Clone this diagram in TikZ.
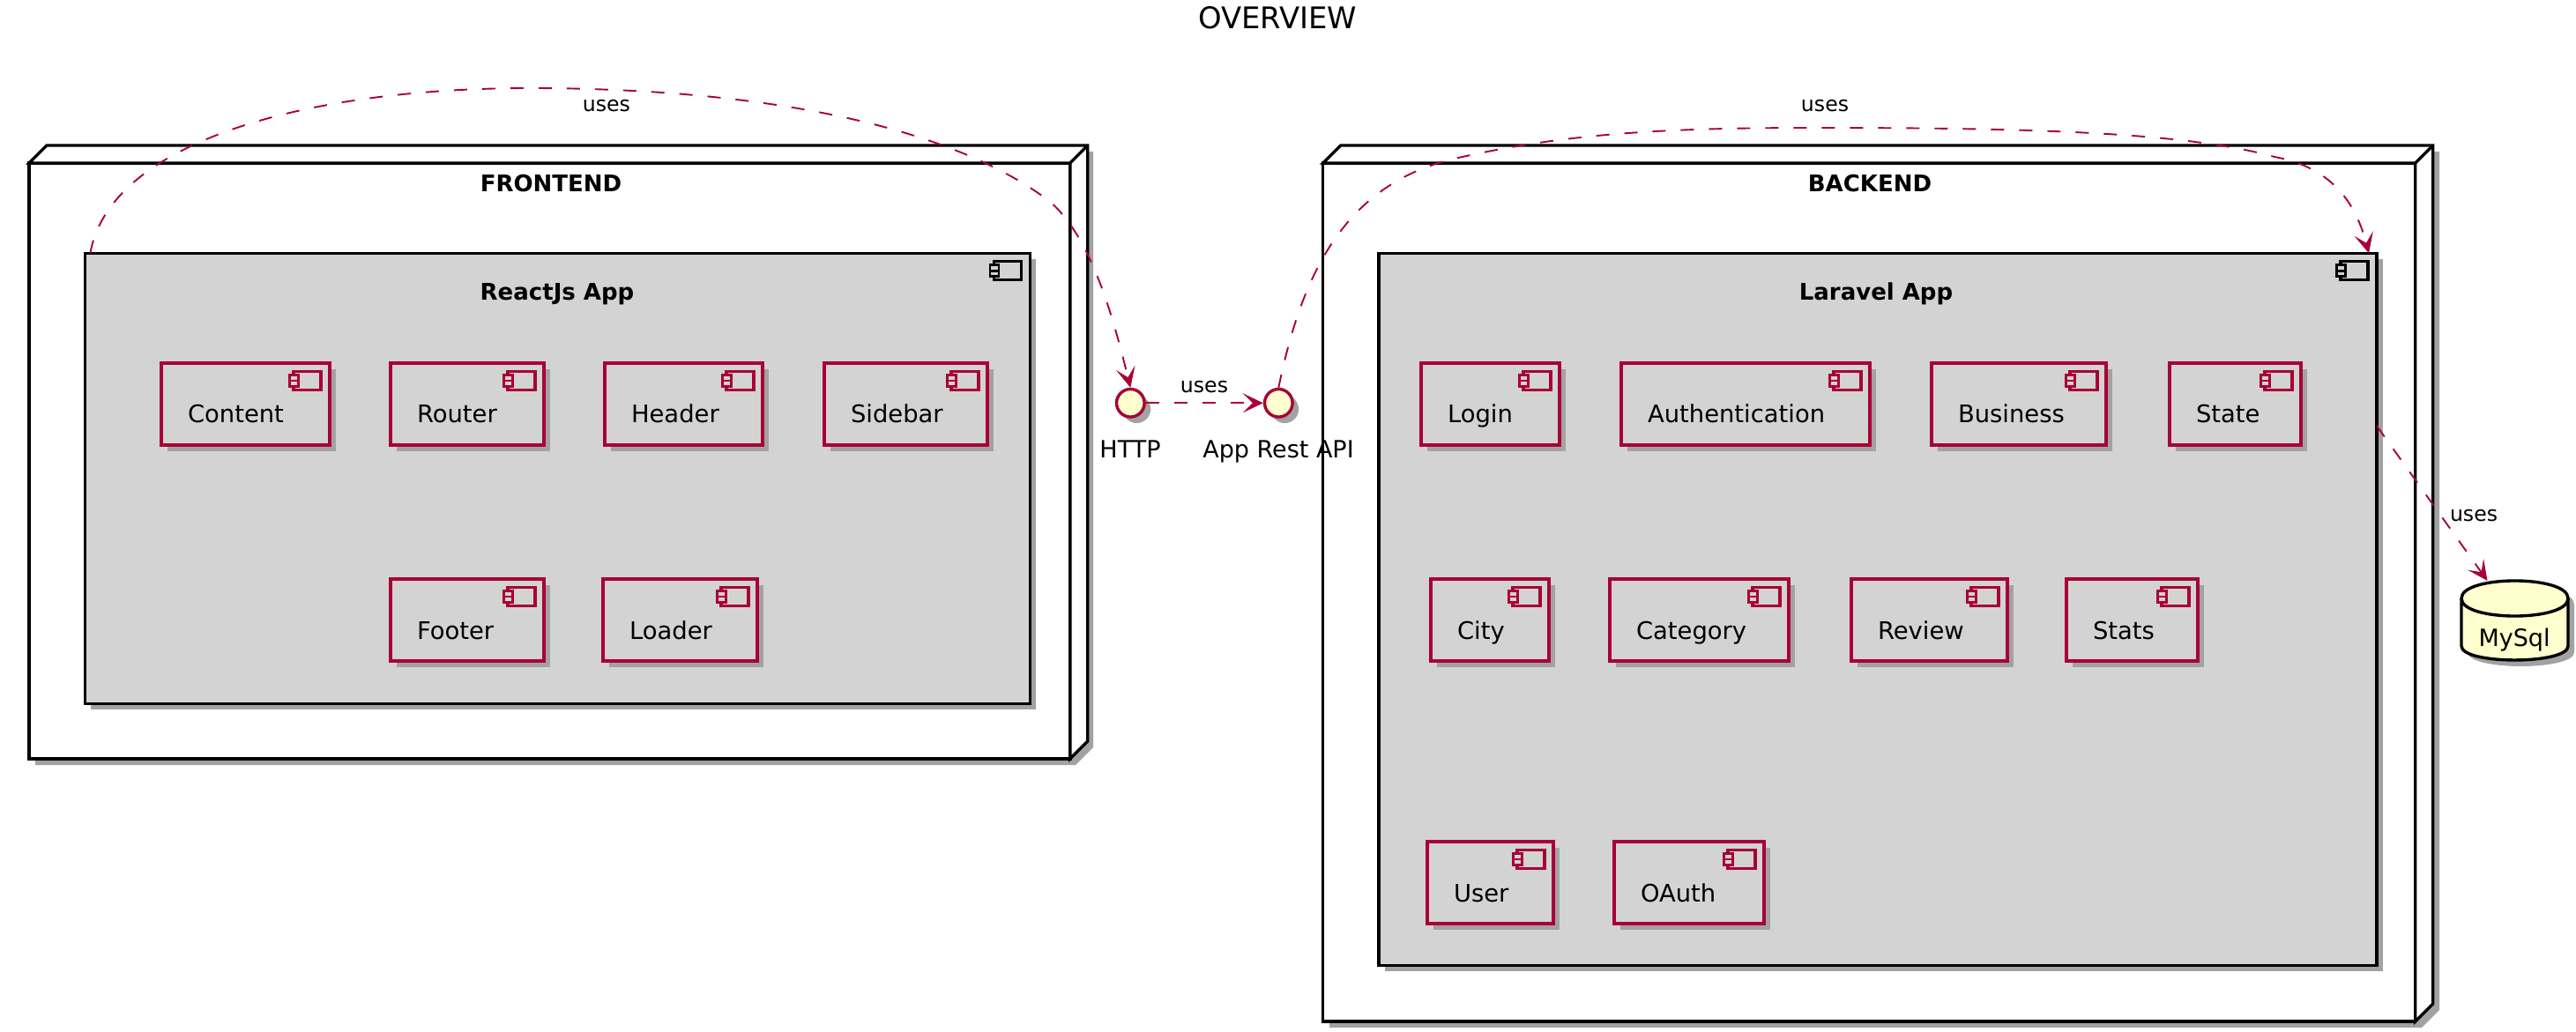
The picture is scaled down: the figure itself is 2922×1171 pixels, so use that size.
\documentclass[tikz,border=0pt]{standalone}
\usepackage{fontspec}
\setmainfont{DejaVu Sans}
\usetikzlibrary{arrows.meta,shadows}

\definecolor{umlred}{HTML}{A80036}
\definecolor{umlyellow}{HTML}{FEFECE}
\definecolor{umlgray}{HTML}{D3D3D3}
\definecolor{umlshadow}{HTML}{A2A2A2}

\newcommand{\compicon}[2]{
  \begin{scope}[shift={(#2.north east)},draw=#1,line width=1.6pt]
    \draw (-41,9.5) rectangle (-10,30.5);
    \filldraw[fill=umlgray,line width=1.4pt] (-45.5,13.5) rectangle (-35.5,20);
    \filldraw[fill=umlgray,line width=1.4pt] (-45.5,20) rectangle (-35.5,26.5);
  \end{scope}
}

\tikzset{
  softshadow/.style={drop shadow={shadow xshift=3.5pt,shadow yshift=-3.5pt,fill=umlshadow,opacity=1}},
  frame3d/.style={draw=black, fill=white, line width=1.7pt, anchor=north west, inner sep=0pt, outer sep=0pt},
  appbox/.style={draw=black, fill=umlgray, line width=1.7pt, anchor=north west, inner sep=0pt, outer sep=0pt, softshadow},
  comp/.style={draw=umlred, fill=umlgray, line width=1.7pt, anchor=north west, align=left, outer sep=0pt,
    inner xsep=15pt, inner ysep=0pt, text height=34pt, text depth=12.5pt,
    text width=#1*0.5pt-30pt, font=\fontsize{13.7}{16}\selectfont, softshadow},
  iface/.style={circle, draw=umlred, fill=umlyellow, line width=1.7pt, inner sep=0pt, minimum size=15.8pt, softshadow},
  uses/.style={draw=umlred, line width=0.95pt, dash pattern=on 7.5pt off 8.5pt,
    -{Stealth[length=11.5pt,width=11pt,inset=5.5pt,color=umlred]}},
  usestext/.style={anchor=base, inner sep=0pt, font=\fontsize{11.8}{14}\selectfont},
  boldtext/.style={anchor=base, inner sep=0pt, font=\fontsize{13}{16}\selectfont\bfseries},
  plaintext/.style={anchor=base, inner sep=0pt, font=\fontsize{13.5}{16}\selectfont}
}

\begin{document}
\begin{tikzpicture}[x=0.5pt,y=-0.5pt]
\useasboundingbox (0,0) rectangle (2922,1171);

\node (overview) [anchor=base, inner sep=0pt, font=\fontsize{16.9}{20}\selectfont] at (1449,33) {OVERVIEW};

%frontend cube
\fill[umlshadow] (40,192) -- (60,172) -- (1240,172) -- (1240,848) -- (1220,868) -- (40,868) -- cycle;
\node (frontend) [frame3d, minimum width=590.4pt, minimum height=338pt] at (33,185) {};
\draw[line width=1.7pt, line join=miter, fill=white] (frontend.north west) -- ++(20,-20) -- ++(1180.7,0) -- ++(0,676) -- (frontend.south east) -- (frontend.north east) -- cycle;
\draw[line width=1.7pt] (frontend.north east) -- ++(20,-20);
\node (frontendlabel) [boldtext] at (625,218) {FRONTEND};

%backend cube
\fill[umlshadow] (1508,192) -- (1528,172) -- (2767,172) -- (2767,1146) -- (2747,1166) -- (1508,1166) -- cycle;
\node (backend) [frame3d, minimum width=619.5pt, minimum height=487pt] at (1500.7,185) {};
\draw[line width=1.7pt, line join=miter, fill=white] (backend.north west) -- ++(20,-20) -- ++(1239,0) -- ++(0,974) -- (backend.south east) -- (backend.north east) -- cycle;
\draw[line width=1.7pt] (backend.north east) -- ++(20,-20);
\node (backendlabel) [boldtext] at (2121,218) {BACKEND};

%reactjs app
\node (reactapp) [appbox, minimum width=536pt, minimum height=255.5pt] at (96.4,287.3) {};
\compicon{black}{reactapp}
\node (reactlabel) [boldtext] at (632,341) {ReactJs App};
\node (content) [comp=191] at (183,412) {Content};
\node (router) [comp=174] at (443,412) {Router};
\node (header) [comp=179] at (686,412) {Header};
\node (sidebar) [comp=185] at (935,412) {Sidebar};
\node (footer) [comp=174] at (443,657) {Footer};
\node (loader) [comp=175] at (684,657) {Loader};
\compicon{umlred}{content}
\compicon{umlred}{router}
\compicon{umlred}{header}
\compicon{umlred}{sidebar}
\compicon{umlred}{footer}
\compicon{umlred}{loader}

%laravel app
\node (laravelapp) [appbox, minimum width=566pt, minimum height=404pt] at (1564,287.3) {};
\compicon{black}{laravelapp}
\node (laravellabel) [boldtext] at (2128,341) {Laravel App};
\node (login) [comp=157] at (1612,412) {Login};
\node (authentication) [comp=282] at (1839,412) {Authentication};
\node (business) [comp=198] at (2191,412) {Business};
\node (state) [comp=149] at (2461,412) {State};
\node (city) [comp=134] at (1623,657) {City};
\node (category) [comp=203] at (1826,657) {Category};
\node (review) [comp=177] at (2100,657) {Review};
\node (stats) [comp=149] at (2344,657) {Stats};
\node (user) [comp=143] at (1619,955) {User};
\node (oauth) [comp=170] at (1831,955) {OAuth};
\compicon{umlred}{login}
\compicon{umlred}{authentication}
\compicon{umlred}{business}
\compicon{umlred}{state}
\compicon{umlred}{city}
\compicon{umlred}{category}
\compicon{umlred}{review}
\compicon{umlred}{stats}
\compicon{umlred}{user}
\compicon{umlred}{oauth}

%interfaces
\node (http) [iface] at (1282.3,457.3) {};
\node (api) [iface] at (1450.3,457.3) {};
\node (httplabel) [plaintext] at (1282,519) {HTTP};
\node (apilabel) [plaintext] at (1450,519) {App Rest API};

%database
\fill[umlshadow] (2799,686) .. controls (2799,659.3) and (2920,659.3) .. (2920,686) -- (2920,740) .. controls (2920,761.3) and (2799,761.3) .. (2799,740) -- cycle;
\filldraw[draw=black, fill=umlyellow, line width=1.7pt] (2792,679) .. controls (2792,652.3) and (2913,652.3) .. (2913,679) -- (2913,733) .. controls (2913,754.3) and (2792,754.3) .. (2792,733) -- cycle;
\draw[line width=1.7pt] (2792,679) .. controls (2792,705.7) and (2913,705.7) .. (2913,679);
\node (mysql) [inner sep=0pt, anchor=north, minimum width=61pt, minimum height=45pt] at (2852.5,659) {};
\node (mysqllabel) [plaintext] at (2852,733) {MySql};

%connectors
\draw[uses] ([xshift=3pt]reactapp.north west) .. controls (125,160) and (350,100) .. (600,100) .. controls (820,100) and (1060,130) .. (1190,228) .. controls (1240,270) and (1265,370) .. (http.north);
\draw[uses] (api.north) .. controls (1475,320) and (1520,210) .. (1650,180) .. controls (1780,150) and (1900,145) .. (2060,145) .. controls (2300,145) and (2480,150) .. (2580,178) .. controls (2645,190) and (2672,230) .. ([xshift=-4.5pt]laravelapp.north east);
\draw[uses] (http) -- (api);
\draw[uses] ([yshift=-98pt]laravelapp.north east) -- ([xshift=-15.5pt]mysql.north);

\node (uses1) [usestext] at (688,127) {uses};
\node (uses2) [usestext] at (2070,127) {uses};
\node (uses3) [usestext] at (1366,445) {uses};
\node (uses4) [usestext] at (2806,591) {uses};
\end{tikzpicture}
\end{document}
